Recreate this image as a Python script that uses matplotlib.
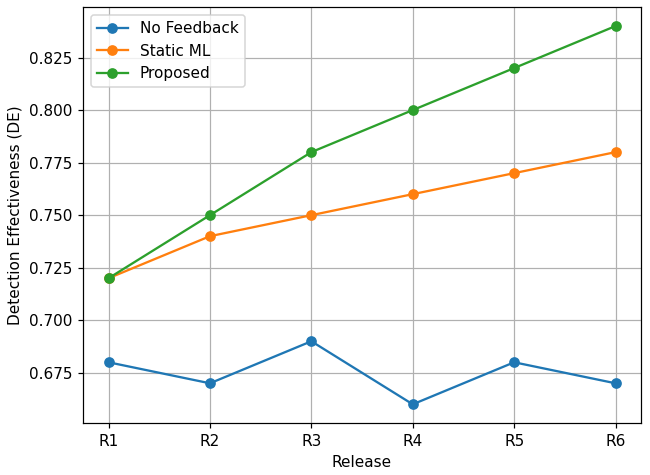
import matplotlib
matplotlib.use("Agg")
import matplotlib.pyplot as plt

releases = ["R1", "R2", "R3", "R4", "R5", "R6"]
no_feedback = [0.68, 0.67, 0.69, 0.66, 0.68, 0.67]
static_ml = [0.72, 0.74, 0.75, 0.76, 0.77, 0.78]
proposed = [0.72, 0.75, 0.78, 0.80, 0.82, 0.84]

dpi = 110
fig, ax = plt.subplots(figsize=(650 / dpi, 475 / dpi), dpi=dpi)
ax.plot(releases, no_feedback, marker="o", label="No Feedback")
ax.plot(releases, static_ml, marker="o", label="Static ML")
ax.plot(releases, proposed, marker="o", label="Proposed")
ax.set_xlabel("Release")
ax.set_ylabel("Detection Effectiveness (DE)")
ax.grid(True)
ax.legend(loc="upper left")
fig.subplots_adjust(left=0.128, right=0.986, top=0.985, bottom=0.109)
fig.savefig("out.png", dpi=dpi)
